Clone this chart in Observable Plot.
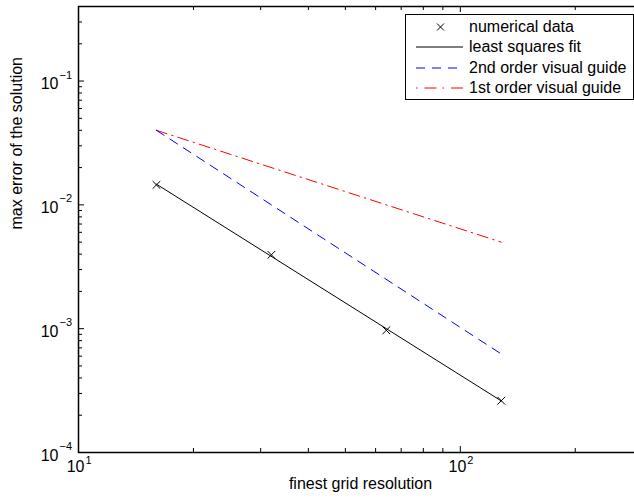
<!DOCTYPE html>
<html>
<head>
<meta charset="utf-8">
<script src="https://cdn.jsdelivr.net/npm/d3@7"></script>
<script src="https://cdn.jsdelivr.net/npm/@observablehq/plot@0.6"></script>
<style>
  html, body { margin: 0; padding: 0; background: #fff; overflow: hidden; }
  #wrap { position: relative; width: 634px; height: 500px; overflow: hidden; font-family: "Liberation Sans", Arial, Helvetica, sans-serif; }
  #chart { width: 642px; height: 500px; }
  #chart svg { max-width: none !important; width: 642px; height: 500px; display: block; }
  #legend { position: absolute; left: 405px; top: 14px; width: 227px; height: 84px; border: 1.3px solid #000; background: #fff; }
  #legend .row { position: absolute; left: 0; height: 20px; display: flex; align-items: center; }
  #legend .row span { position: absolute; left: 63px; font-size: 16px; white-space: nowrap; color: #000; }
  #legend svg { position: absolute; left: 10px; }
</style>
</head>
<body>
<div id="wrap"><div id="chart"></div><div id="legend"></div></div>
<script>
// ---- data ----
const gridRes = [16, 32, 64, 128];
const maxError = [0.0145, 0.00395, 0.00097, 0.000262];
const fitX = [16, 128];
const fitY = [0.0147, 0.000261];
const guideX = [16, 128];
const secondOrderY = [0.04, 0.000625];
const firstOrderY = [0.04, 0.005];

const xMajor = [10, 100];
const xExp = ["1", "2"];
const xMinor = [20, 30, 40, 50, 60, 70, 80, 90, 200, 300];
const yMajor = [1e-4, 1e-3, 1e-2, 1e-1];
const yExp = ["\u22124", "\u22123", "\u22122", "\u22121"];
const yMinor = [2e-4,3e-4,4e-4,5e-4,6e-4,7e-4,8e-4,9e-4,
                2e-3,3e-3,4e-3,5e-3,6e-3,7e-3,8e-3,9e-3,
                2e-2,3e-2,4e-2,5e-2,6e-2,7e-2,8e-2,9e-2,
                0.2,0.3,0.4];

const legendLabels = ["numerical data", "least squares fit", "2nd order visual guide", "1st order visual guide"];

// ---- layout ----
const W = 642, H = 500, mL = 78, mT = 6, mB = 48, mR = 0;
const ph = H - mT - mB, pw = W - mL - mR;
const FONT = "Liberation Sans, Arial, Helvetica, sans-serif";

const pts = gridRes.map((x, i) => ({x, y: maxError[i]}));
const fit = fitX.map((x, i) => ({x, y: fitY[i]}));
const g2 = guideX.map((x, i) => ({x, y: secondOrderY[i]}));
const g1 = guideX.map((x, i) => ({x, y: firstOrderY[i]}));

const chart = Plot.plot({
  width: W, height: H,
  marginLeft: mL, marginTop: mT, marginBottom: mB, marginRight: mR,
  style: {fontFamily: FONT, background: "white", color: "black", overflow: "visible", maxWidth: "none"},
  x: {type: "log", domain: [10, 300], axis: null},
  y: {type: "log", domain: [1e-4, 0.4], axis: null},
  marks: [
    Plot.line(g1, {x: "x", y: "y", stroke: "#ff0000", strokeWidth: 1, strokeDasharray: "11,5,1.5,5"}),
    Plot.line(g2, {x: "x", y: "y", stroke: "#0000ff", strokeWidth: 1, strokeDasharray: "9,7"}),
    Plot.line(fit, {x: "x", y: "y", stroke: "#000", strokeWidth: 1}),
    Plot.dot(pts, {x: "x", y: "y", symbol: "times", r: 3.6, stroke: "#000", strokeWidth: 1}),
    Plot.tickX(xMajor, {x: d => d, insetTop: ph - 6, stroke: "#000", strokeWidth: 1}),
    Plot.tickX(xMinor, {x: d => d, insetTop: ph - 4, stroke: "#000", strokeWidth: 1}),
    Plot.tickX(xMajor, {x: d => d, insetBottom: ph - 6, stroke: "#000", strokeWidth: 1}),
    Plot.tickX(xMinor, {x: d => d, insetBottom: ph - 4, stroke: "#000", strokeWidth: 1}),
    Plot.tickY(yMajor, {y: d => d, insetRight: pw - 6, stroke: "#000", strokeWidth: 1}),
    Plot.tickY(yMinor, {y: d => d, insetRight: pw - 4, stroke: "#000", strokeWidth: 1}),
    Plot.frame({stroke: "#000", strokeWidth: 1.5}),
    Plot.text(yMajor, {y: d => d, frameAnchor: "left", text: () => "10", textAnchor: "end", dx: -20, dy: 3, fontSize: 16, fill: "#000"}),
    Plot.text(yMajor, {y: d => d, frameAnchor: "left", text: (d, i) => yExp[i], textAnchor: "start", dx: -19, dy: -6, fontSize: 11, fill: "#000"}),
    Plot.text(xMajor, {x: d => d, frameAnchor: "bottom", text: () => "10", textAnchor: "end", dx: 6, dy: 19, fontSize: 16, fill: "#000"}),
    Plot.text(xMajor, {x: d => d, frameAnchor: "bottom", text: (d, i) => xExp[i], textAnchor: "start", dx: 7, dy: 11, fontSize: 11, fill: "#000"}),
    Plot.text(["finest grid resolution"], {frameAnchor: "bottom", dy: 36, fontSize: 16, fill: "#000"}),
    Plot.text(["max error of the solution"], {frameAnchor: "left", dx: -62, rotate: -90, fontSize: 16, fill: "#000"})
  ]
});
document.getElementById("chart").appendChild(chart);

// ---- legend ----
const legend = document.getElementById("legend");
const samples = [
  `<path d="M21,6.5 L28,13.5 M28,6.5 L21,13.5" stroke="#000" stroke-width="1"/>`,
  `<line x1="0" x2="47" y1="10" y2="10" stroke="#000" stroke-width="1"/>`,
  `<line x1="0" x2="47" y1="10" y2="10" stroke="#0000ff" stroke-width="1" stroke-dasharray="9,7"/>`,
  `<line x1="0" x2="47" y1="10" y2="10" stroke="#ff0000" stroke-width="1" stroke-dasharray="1.5,7,12,6"/>`
];
legendLabels.forEach((lab, i) => {
  const row = document.createElement("div");
  row.className = "row";
  row.style.top = (2 + i * 20.3) + "px";
  row.innerHTML = `<svg width="48" height="20" style="top:0">${samples[i]}</svg><span>${lab}</span>`;
  legend.appendChild(row);
});
</script>
</body>
</html>
